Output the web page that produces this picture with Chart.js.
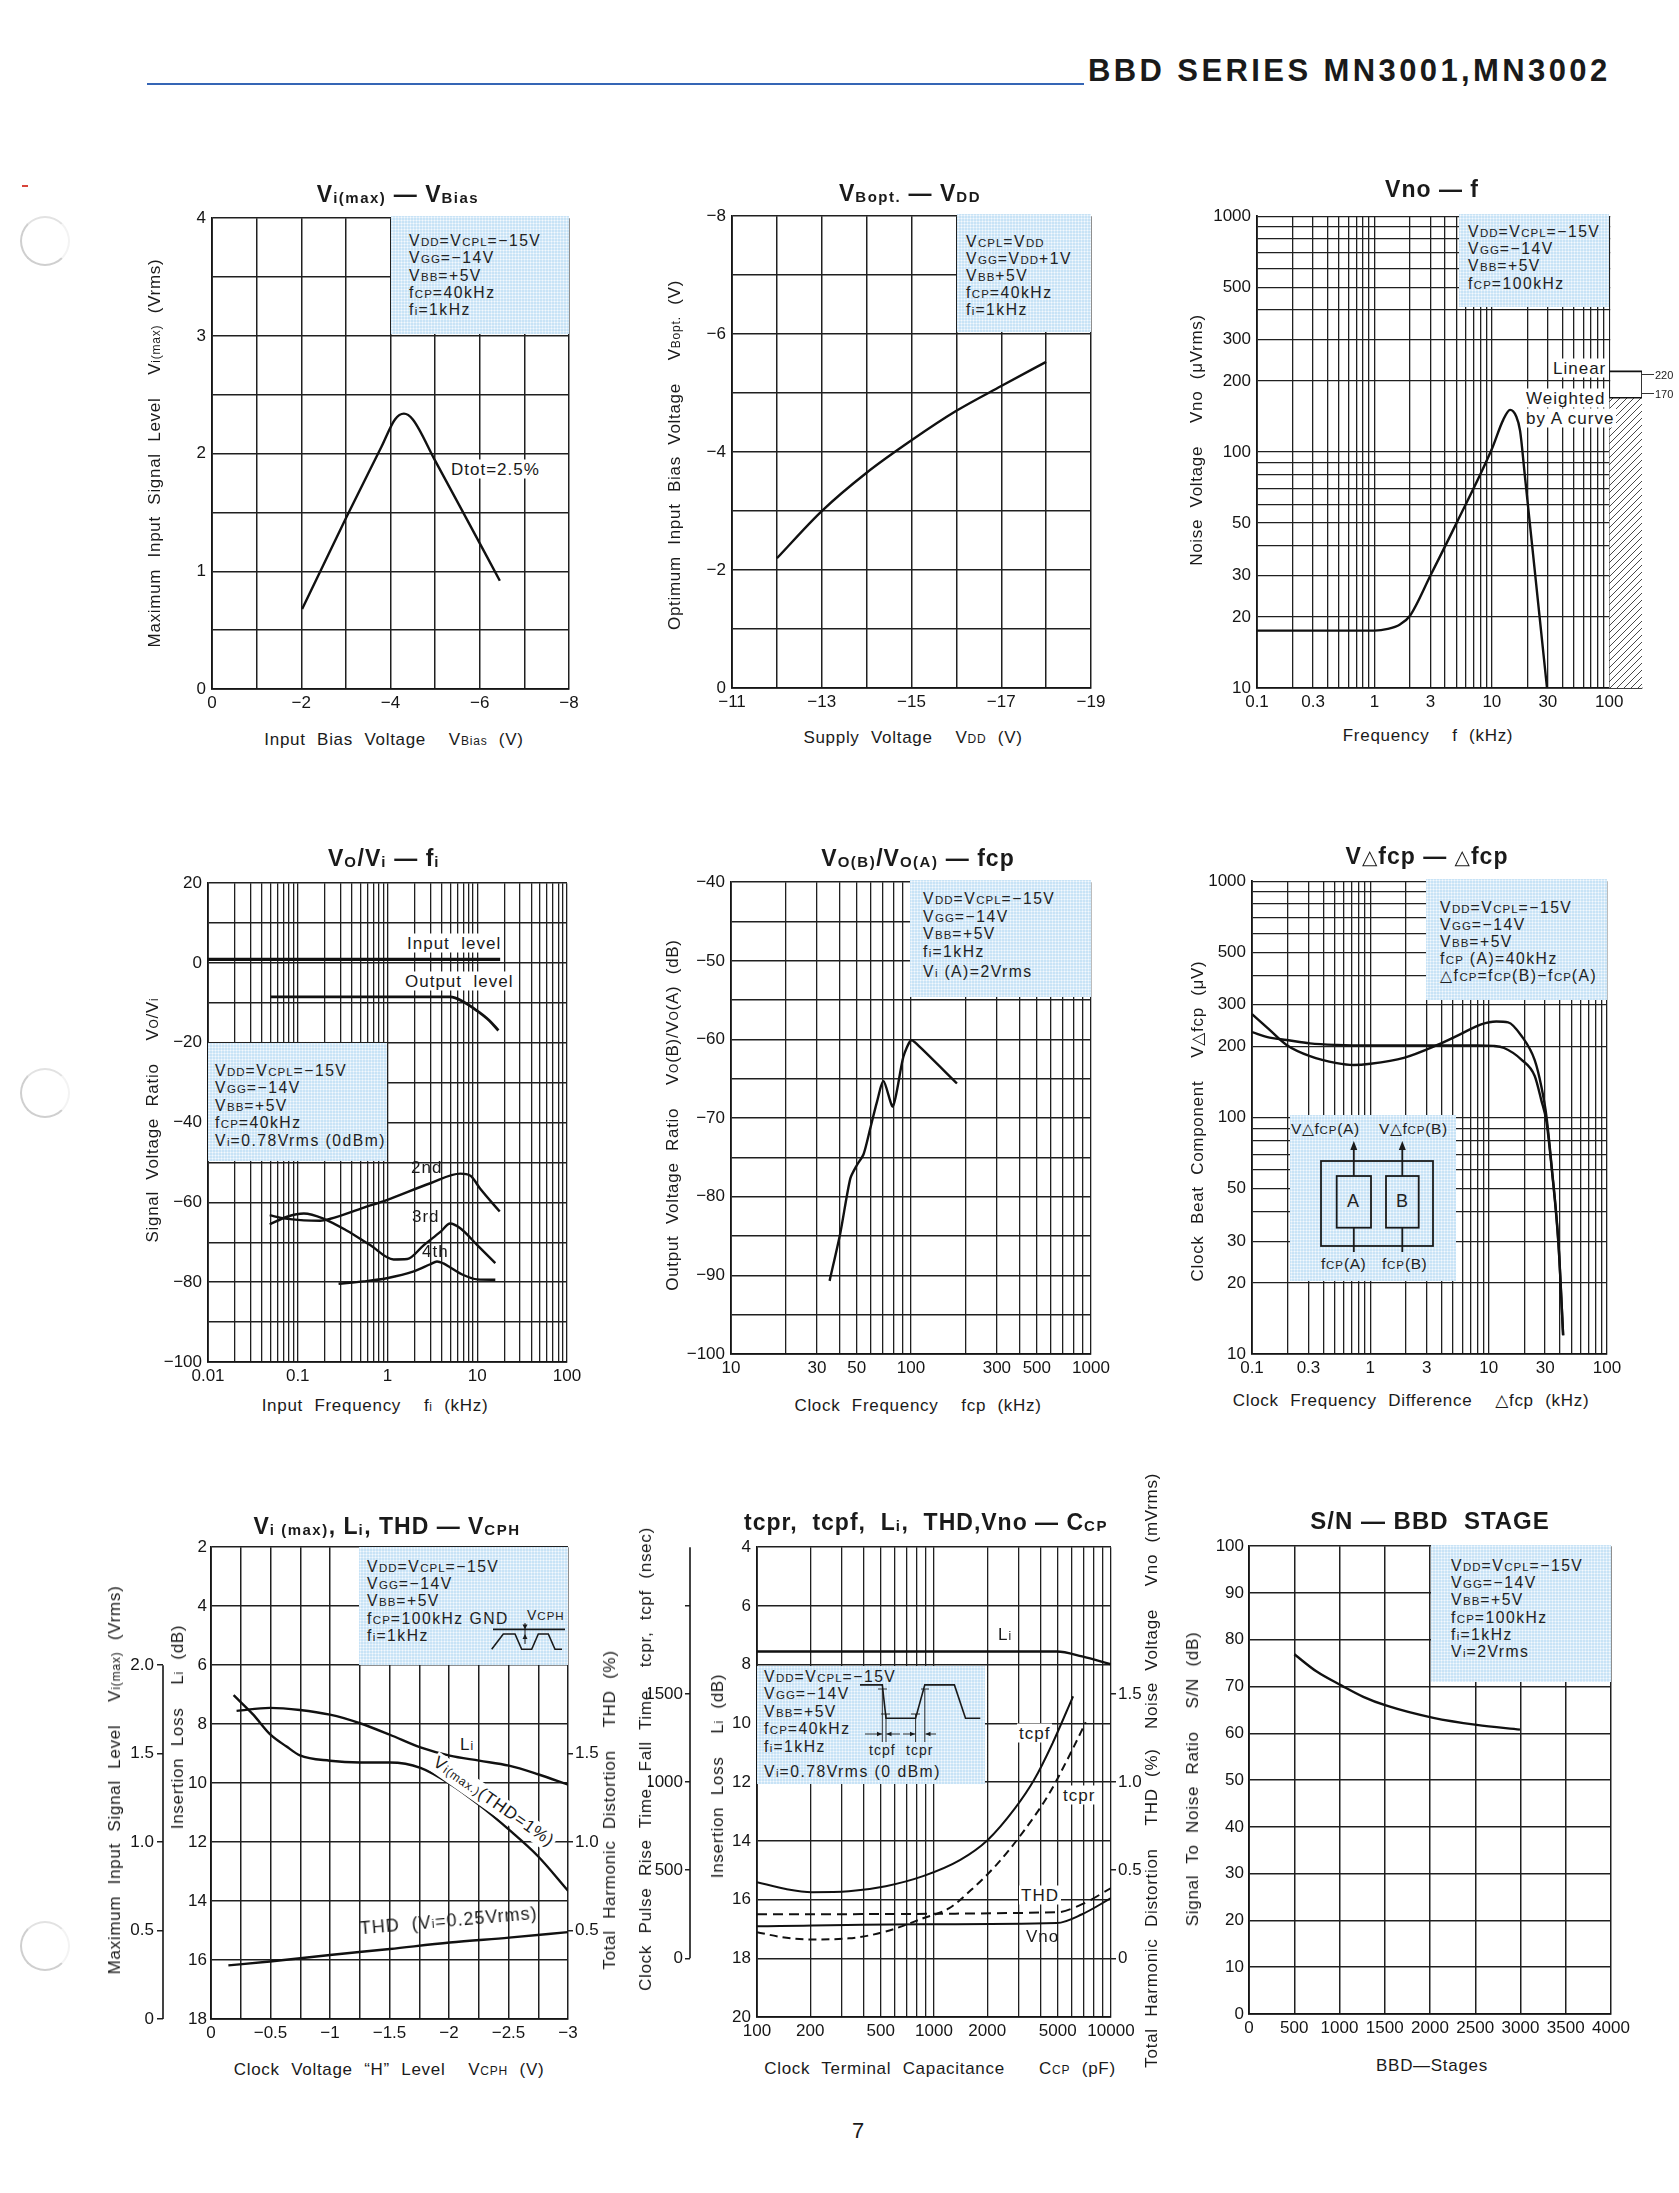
<!DOCTYPE html>
<html>
<head>
<meta charset="utf-8">
<title>BBD SERIES MN3001, MN3002</title>
<script src="https://cdn.jsdelivr.net/npm/chart.js@4.4.1/dist/chart.umd.min.js"></script>
<style>
  html, body { margin: 0; padding: 0; background: #fff; }
  #page { position: relative; width: 1679px; height: 2193px; overflow: hidden; font-family: "Liberation Sans", Arial, "DejaVu Sans", sans-serif; color: #1a1a1a; }
  #page canvas { position: absolute; }
  .t { position: absolute; white-space: nowrap; }
  .ttl { transform: translate(-50%, -50%); font-weight: bold; font-size: 23px; letter-spacing: 1px; }
  .ttl .ts { font-size: 15px; letter-spacing: 1.5px; vertical-align: -1px; }
  .tri { font-family: "DejaVu Sans", sans-serif; font-weight: normal; font-size: 20px; }
  .ax { transform: translate(-50%, -50%); font-size: 17px; letter-spacing: 0.7px; word-spacing: 6px; }
  .ay { transform: translate(-50%, -50%) rotate(-90deg); font-size: 17px; letter-spacing: 0.7px; word-spacing: 6px; }
  .s { font-size: 12px; letter-spacing: 0.8px; }
  .lab { transform: translateY(-50%); font-size: 17px; letter-spacing: 1px; line-height: 19px; padding: 0 2px; }
  .wb { background: #fff; }
  .cond { position: absolute; box-sizing: border-box; background-color: #c8e3f6;
          background-image: radial-gradient(rgba(255,255,255,.8) 0.8px, transparent 1.2px); background-size: 3px 3px;
          font-size: 15.7px; letter-spacing: 1.5px; white-space: nowrap; color: #222; }
  .cond .s { font-size: 11.5px; letter-spacing: 1px; }
  .cond svg { position: absolute; left: 0; top: 0; overflow: visible; }
  .small { font-size: 14px; letter-spacing: 1px; }
  .hole { position: absolute; width: 50px; height: 50px; border-radius: 50%; box-sizing: border-box;
          border: 2px solid #cfcfcf; border-right-color: #f3f3f3; border-top-color: #e2e2e2; }
</style>
</head>
<body>
<div id="page">
  <div class="t" style="left:1088px; top:53px; font-weight:bold; font-size:31px; letter-spacing:3.4px;">BBD SERIES MN3001,MN3002</div>
  <div style="position:absolute; left:147px; top:83px; width:937px; height:2px; background:#3565b5;"></div>
  <div style="position:absolute; left:22px; top:185px; width:6px; height:2px; background:#d8443a;"></div>
  <div class="hole" style="left:20px; top:216px;"></div>
  <div class="hole" style="left:20px; top:1068px;"></div>
  <div class="hole" style="left:20px; top:1921px;"></div>
  <div class="t" style="left:858px; top:2131px; transform:translate(-50%,-50%); font-size:22px;">7</div>
</div>
<script>
// ---------- chart values ----------
// Vi(max) - VBias
const BIAS_V = [-2.02, -3.0, -3.8, -4.1, -4.3, -4.5, -5.0, -5.6, -6.45];
const VIMAX_RMS = [0.68, 1.45, 2.06, 2.29, 2.34, 2.29, 1.94, 1.52, 0.92];
const BIAS_GRID = [0, -1, -2, -3, -4, -5, -6, -7, -8];
const BIAS_LABELS = [0, -2, -4, -6, -8];
const VIMAX_GRID = [0, 0.5, 1, 1.5, 2, 2.5, 3, 3.5, 4];
const VIMAX_LABELS = [0, 1, 2, 3, 4];

// VBopt - VDD
const VDD_V = [-12.0, -13.0, -14.0, -15.0, -16.0, -17.0, -18.0];
const VBOPT_V = [-2.2, -3.0, -3.65, -4.2, -4.7, -5.12, -5.53];
const VDD_GRID = [-11, -12, -13, -14, -15, -16, -17, -18, -19];
const VDD_LABELS = [-11, -13, -15, -17, -19];
const VBOPT_GRID = [0, -1, -2, -3, -4, -5, -6, -7, -8];
const VBOPT_LABELS = [0, -2, -4, -6, -8];

// Vno - f
const NOISE_F = [0.1, 0.5, 1.0, 1.3, 1.65, 2.0, 3.0, 5.0, 10, 12.5, 14.3, 16.1, 17.4, 19.1, 29.5];
const NOISE_UV = [17.5, 17.5, 17.5, 17.8, 18.6, 20.2, 30, 50, 103, 137, 151, 142, 123, 79.5, 10];
const LINEAR_F = [100, 190, 190];
const LINEAR_UV = [220, 220, 10];
const WEIGHTED_F = [100, 190];
const WEIGHTED_UV = [170, 170];
const NOISE_F_LABELS = [0.1, 0.3, 1, 3, 10, 30, 100];
const NOISE_UV_LABELS = [10, 20, 30, 50, 100, 200, 300, 500, 1000];

// Vo/Vi - fi
const INPUT_F = [0.01, 18];
const INPUT_DB = [0.9, 0.9];
const OUTPUT_F = [0.05, 1, 5.0, 7.0, 10, 13.6, 17.2];
const OUTPUT_DB = [-8.5, -8.5, -8.5, -9.7, -12, -14.4, -16.9];
const H2_F = [0.0487, 0.07, 0.117, 0.178, 0.231, 0.544, 0.98, 3.0, 6.47, 8.39, 10.8, 17.8];
const H2_DB = [-63.2, -64.0, -64.5, -64.6, -64.1, -61.3, -59.4, -55.2, -52.8, -53.3, -56.6, -62.3];
const H3_F = [0.0487, 0.076, 0.117, 0.195, 0.354, 0.64, 1.17, 1.66, 2.54, 3.88, 5.0, 6.47, 10, 15.9];
const H3_DB = [-65.5, -63.6, -62.8, -64.1, -67.1, -70.7, -74.3, -74.2, -70.7, -67.4, -65.3, -66.5, -70.7, -75.2];
const H4_F = [0.285, 0.544, 0.98, 1.96, 3.0, 3.56, 4.2, 5.0, 7.0, 10, 15.9];
const H4_DB = [-80.4, -79.8, -79.0, -77.3, -75.5, -74.8, -75.3, -76.3, -78.2, -79.3, -79.4];
const FI_LABELS = [0.01, 0.1, 1, 10, 100];
const RATIO_GRID = [20, 10, 0, -10, -20, -30, -40, -50, -60, -70, -80, -90, -100];
const RATIO_LABELS = [20, 0, -20, -40, -60, -80, -100];

// Vo(B)/Vo(A) - fcp
const FCP_KHZ = [35.3, 40.5, 46.0, 50.0, 54.5, 59.4, 64.6, 70.4, 79.3, 90.7, 100, 107.9, 180];
const VOBA_DB = [-90.7, -84.6, -77.7, -76.0, -74.6, -71.3, -68.0, -65.3, -68.5, -62.2, -60.1, -60.6, -65.6];
const FCP_LABELS = [10, 30, 50, 100, 300, 500, 1000];
const VOBA_GRID = [-40, -45, -50, -55, -60, -65, -70, -75, -80, -85, -90, -95, -100];
const VOBA_LABELS = [-40, -50, -60, -70, -80, -90, -100];

// VΔfcp - Δfcp
const DF_A_KHZ = [0.1, 0.141, 0.196, 0.309, 0.521, 0.722, 1.0, 1.92, 3.69, 5.84, 8.64, 11.6, 14.6, 18.9, 24.5, 27.9, 30.8, 34.2, 38.9, 42.6];
const VDF_A_UV = [274, 235, 203, 182, 170, 167, 169, 179, 203, 226, 248, 255, 253, 222, 175, 135, 101, 61, 29.5, 12];
const DF_B_KHZ = [0.1, 0.141, 0.196, 0.309, 0.521, 1.0, 3.0, 8.0, 11.0, 13.5, 18.9, 24.5, 27.9, 30.8, 34.2, 38.9, 42.6];
const VDF_B_UV = [230, 218, 213, 206, 203, 202, 202, 202, 201, 197, 176, 150, 118, 96, 60, 29, 12];
const DF_LABELS = [0.1, 0.3, 1, 3, 10, 30, 100];
const VDF_LABELS = [10, 20, 30, 50, 100, 200, 300, 500, 1000];

// Vi(max), Li, THD - VCPH
const LI7_VCPH = [-0.215, -0.495, -0.747, -0.999, -1.251, -1.503, -1.760, -2.006, -2.253, -2.504, -2.748, -3.0];
const LI7_DB = [7.55, 7.45, 7.52, 7.68, 7.97, 8.36, 8.79, 9.07, 9.24, 9.41, 9.70, 10.05];
const VI7_VCPH = [-0.19, -0.355, -0.495, -0.635, -0.747, -0.999, -1.251, -1.503, -1.760, -2.006, -2.253, -2.504, -2.748, -3.0];
const VI7_RMS = [1.83, 1.72, 1.61, 1.54, 1.49, 1.46, 1.45, 1.45, 1.42, 1.33, 1.21, 1.07, 0.92, 0.725];
const THD7_VCPH = [-0.146, -0.495, -0.999, -1.503, -2.006, -2.504, -3.0];
const THD7_PCT = [0.303, 0.325, 0.362, 0.396, 0.432, 0.460, 0.491];
const VCPH_GRID = [0, -0.25, -0.5, -0.75, -1, -1.25, -1.5, -1.75, -2, -2.25, -2.5, -2.75, -3];
const VCPH_LABELS = [0, -0.5, -1, -1.5, -2, -2.5, -3];
const LI7_GRID = [2, 4, 6, 8, 10, 12, 14, 16, 18];
const VI7_TICKS = [0, 0.5, 1, 1.5, 2];
const THD7_TICKS = [0.5, 1, 1.5];

// tcpr, tcpf, Li, THD, Vno - Ccp
const LI8_CCP = [100, 4951, 6870, 10000];
const LI8_DB = [7.55, 7.55, 7.72, 7.99];
const TCPF_CCP = [100, 145.6, 204, 330, 534, 867, 1400, 2005, 2872, 3665, 4649, 6108];
const TCPF_NS = [432, 393, 375, 380, 409, 466, 557, 670, 852, 1010, 1215, 1487];
const TCPR_CCP = [100, 138.8, 204, 330, 534, 867, 1213, 1618, 2266, 3174, 4446, 5937, 7200];
const TCPR_NS = [148, 120, 107, 113, 152, 227, 283, 387, 533, 715, 930, 1168, 1340];
const THD8_CCP = [100, 4951, 6870, 10000];
const THD8_PCT = [0.25, 0.261, 0.307, 0.398];
const VNO8_CCP = [100, 867, 4951, 6870, 10000];
const VNO8_MV = [0.182, 0.193, 0.2, 0.25, 0.341];
const CCP_LABELS = [100, 200, 500, 1000, 2000, 5000, 10000];
const LI8_GRID = [4, 6, 8, 10, 12, 14, 16, 18, 20];
const NS_TICKS = [0, 500, 1000, 1500, 2000];
const NS_LABELS = [0, 500, 1000, 1500];
const R8_TICKS = [0, 0.5, 1, 1.5];

// S/N - BBD stage
const STAGES = [501, 748, 1024, 1263, 1521, 2037, 2516, 2994];
const SN_DB = [76.9, 73.2, 70.2, 67.8, 65.9, 63.3, 61.8, 60.8];
const STAGE_GRID = [0, 500, 1000, 1500, 2000, 2500, 3000, 3500, 4000];
const SN_GRID = [0, 10, 20, 30, 40, 50, 60, 70, 80, 90, 100];

// ---------- helpers ----------
const page = document.getElementById("page");
const GRID = "#202020";
const INK = "#111";
const sb = (t) => `<span class="s">${t}</span>`;
const fmtMinus = (v) => (v < 0 ? "\u2212" : "") + Math.abs(v);
const fmt1 = (v) => (v === 0 ? "0" : v.toFixed(1));

Chart.defaults.font.family = '"Liberation Sans", Arial, sans-serif';
Chart.defaults.font.size = 17;
Chart.defaults.color = "#151515";

function logGrid(lo, hi) {
  const out = [];
  for (let d = lo; d < hi * 0.999; d *= 10) {
    for (let k = 1; k < 10; k++) out.push(Number((d * k).toPrecision(4)));
  }
  out.push(hi);
  return out;
}

function axis(o) {
  return {
    type: o.type || "linear",
    position: o.position,
    min: o.min,
    max: o.max,
    reverse: !!o.reverse,
    weight: o.weight || 0,
    afterBuildTicks: (sc) => { sc.ticks = o.grid.map((v) => ({ value: v })); },
    afterFit: (sc) => { if (sc.isHorizontal()) sc.height = o.size; else sc.width = o.size; },
    ticks: {
      autoSkip: false, maxRotation: 0, minRotation: 0,
      padding: o.pad ?? 6,
      color: "#151515",
      callback: (v) => {
        const hit = (o.labels || []).find((l) => Math.abs(l - v) <= Math.abs(l) * 1e-6 + 1e-9);
        return hit === undefined ? "" : (o.fmt || String)(hit);
      }
    },
    grid: {
      display: true,
      drawOnChartArea: o.onArea !== false,
      drawTicks: !!o.tick,
      tickLength: o.tick || 0,
      color: o.gridColor || GRID,
      lineWidth: o.gridWidth || 1.5
    },
    border: { display: o.border !== false, color: "#151515", width: 1.8 }
  };
}

function series(xs, ys, extra) {
  return Object.assign({
    data: xs.map((x, i) => ({ x, y: ys[i] })),
    borderColor: INK,
    borderWidth: 2.4,
    pointRadius: 0,
    fill: false,
    cubicInterpolationMode: "monotone"
  }, extra || {});
}

function makeCanvas(x, y, w, h) {
  const c = document.createElement("canvas");
  c.width = w; c.height = h;
  c.style.left = x + "px"; c.style.top = y + "px";
  c.style.width = w + "px"; c.style.height = h + "px";
  page.appendChild(c);
  return c;
}

// whites out the grid beyond a value on x (the hatched area of the noise chart)
const clearBeyond = {
  id: "clearBeyond",
  beforeDatasetsDraw(chart, args, o) {
    if (o.from === undefined) return;
    const { ctx, chartArea: a, scales } = chart;
    const x0 = scales.x.getPixelForValue(o.from);
    ctx.save();
    ctx.fillStyle = "#fff";
    ctx.fillRect(x0 + 1, 0, a.right - x0 + 10, a.bottom - 1);
    ctx.restore();
  }
};

// axis line drawn only over part of a secondary scale
const partAxis = {
  id: "partAxis",
  afterDatasetsDraw(chart, args, o) {
    const ctx = chart.ctx;
    (o.lines || []).forEach((l) => {
      const sc = chart.scales[l.axis];
      ctx.save();
      ctx.strokeStyle = "#151515";
      ctx.lineWidth = 1.6;
      ctx.beginPath();
      ctx.moveTo(sc.right, sc.getPixelForValue(l.from));
      ctx.lineTo(sc.right, sc.getPixelForValue(l.to));
      ctx.stroke();
      ctx.restore();
    });
  }
};

function plot(f, pad, scales, datasets, plugins, pluginOpts) {
  const w = f.R - f.L + pad.l + pad.r;
  const h = f.B - f.T + pad.t + pad.b;
  const c = makeCanvas(f.L - pad.l, f.T - pad.t, w, h);
  return new Chart(c, {
    type: "line",
    data: { datasets },
    options: {
      responsive: false,
      animation: false,
      devicePixelRatio: 1,
      events: [],
      layout: { padding: { top: pad.t, right: pad.pr ?? pad.r, left: 0, bottom: 0 } },
      scales,
      plugins: Object.assign({ legend: { display: false }, tooltip: { enabled: false } }, pluginOpts || {})
    },
    plugins: plugins || []
  });
}

function hatchPattern() {
  const p = document.createElement("canvas");
  p.width = 7; p.height = 7;
  const g = p.getContext("2d");
  g.fillStyle = "#fff";
  g.fillRect(0, 0, 7, 7);
  g.strokeStyle = "#333";
  g.lineWidth = 0.9;
  g.beginPath();
  g.moveTo(-1, 8); g.lineTo(8, -1);
  g.moveTo(-1, 1); g.lineTo(1, -1);
  g.moveTo(6, 8); g.lineTo(8, 6);
  g.stroke();
  return g.createPattern(p, "repeat");
}

function put(cls, x, y, html, css) {
  const d = document.createElement("div");
  d.className = "t " + cls;
  d.style.left = x + "px";
  d.style.top = y + "px";
  if (css) d.style.cssText += css;
  d.innerHTML = html;
  page.appendChild(d);
  return d;
}

function cond(x, y, w, h, tx, ty, lh, lines, gapLast) {
  const d = document.createElement("div");
  d.className = "cond";
  Object.assign(d.style, {
    left: x + "px", top: y + "px", width: w + "px", height: h + "px",
    paddingLeft: (tx - x) + "px", paddingTop: (ty - y - lh / 2) + "px", lineHeight: lh + "px"
  });
  d.innerHTML = lines.map((l, i) =>
    `<div${i === lines.length - 1 && gapLast ? ` style="margin-top:${gapLast}px"` : ""}>${l}</div>`).join("");
  page.appendChild(d);
  return d;
}

// ---------- frames (plot areas on the page) ----------
const F1 = { L: 212, T: 216, R: 569, B: 689 };
const F2 = { L: 732, T: 214, R: 1091, B: 688 };
const F3 = { L: 1257, T: 214, R: 1642, B: 688 };
const F4 = { L: 208, T: 881, R: 567, B: 1362 };
const F5 = { L: 731, T: 880, R: 1091, B: 1354 };
const F6 = { L: 1252, T: 879, R: 1607, B: 1354 };
const F7 = { L: 211, T: 1547, R: 568, B: 2019 };
const F8 = { L: 757, T: 1545, R: 1111, B: 2017 };
const F9 = { L: 1249, T: 1545, R: 1611, B: 2014 };

// 1
plot(F1, { l: 62, t: 14, r: 26, b: 32 }, {
  x: axis({ min: -8, max: 0, reverse: true, position: "bottom", grid: BIAS_GRID, labels: BIAS_LABELS, fmt: fmtMinus, size: 32, pad: 4 }),
  y: axis({ min: 0, max: 4, position: "left", grid: VIMAX_GRID, labels: VIMAX_LABELS, size: 62, pad: 6 })
}, [series(BIAS_V, VIMAX_RMS)]);

// 2
plot(F2, { l: 70, t: 14, r: 26, b: 32 }, {
  x: axis({ min: -19, max: -11, reverse: true, position: "bottom", grid: VDD_GRID, labels: VDD_LABELS, fmt: fmtMinus, size: 32, pad: 4 }),
  y: axis({ min: -8, max: 0, reverse: true, position: "left", grid: VBOPT_GRID, labels: VBOPT_LABELS, fmt: fmtMinus, size: 70, pad: 6 })
}, [series(VDD_V, VBOPT_V)]);

// 3
plot(F3, { l: 62, t: 14, r: 37, b: 32 }, {
  x: axis({ type: "logarithmic", min: 0.1, max: 190, position: "bottom", grid: logGrid(0.1, 100).concat([190]),
    labels: NOISE_F_LABELS, size: 32, pad: 4, gridWidth: 1.3,
    gridColor: (c) => (c.tick && c.tick.value > 101 ? "rgba(0,0,0,0)" : GRID) }),
  y: axis({ type: "logarithmic", min: 10, max: 1000, position: "left", grid: logGrid(10, 1000), labels: NOISE_UV_LABELS, size: 62, pad: 6, gridWidth: 1.3 })
}, [
  series(NOISE_F, NOISE_UV),
  series(WEIGHTED_F, WEIGHTED_UV, { fill: "start", backgroundColor: hatchPattern(), borderWidth: 1.7, cubicInterpolationMode: "default" }),
  series(LINEAR_F, LINEAR_UV, { borderWidth: 1.7, cubicInterpolationMode: "default" })
], [clearBeyond], { clearBeyond: { from: 100 } });

// 4
plot(F4, { l: 72, t: 14, r: 26, b: 32 }, {
  x: axis({ type: "logarithmic", min: 0.01, max: 100, position: "bottom", grid: logGrid(0.01, 100), labels: FI_LABELS, size: 32, pad: 4, gridWidth: 1.3 }),
  y: axis({ min: -100, max: 20, position: "left", grid: RATIO_GRID, labels: RATIO_LABELS, fmt: fmtMinus, size: 72, pad: 6 })
}, [
  series(INPUT_F, INPUT_DB, { borderWidth: 3.2 }),
  series(OUTPUT_F, OUTPUT_DB, { borderWidth: 2.8 }),
  series(H2_F, H2_DB),
  series(H3_F, H3_DB),
  series(H4_F, H4_DB)
]);

// 5
plot(F5, { l: 72, t: 14, r: 26, b: 32 }, {
  x: axis({ type: "logarithmic", min: 10, max: 1000, position: "bottom", grid: logGrid(10, 1000), labels: FCP_LABELS, size: 32, pad: 4, gridWidth: 1.3 }),
  y: axis({ min: -100, max: -40, position: "left", grid: VOBA_GRID, labels: VOBA_LABELS, fmt: fmtMinus, size: 72, pad: 6 })
}, [series(FCP_KHZ, VOBA_DB, { cubicInterpolationMode: "default", tension: 0.25 })]);

// 6
plot(F6, { l: 62, t: 14, r: 30, b: 32 }, {
  x: axis({ type: "logarithmic", min: 0.1, max: 100, position: "bottom", grid: logGrid(0.1, 100), labels: DF_LABELS, size: 32, pad: 4, gridWidth: 1.3 }),
  y: axis({ type: "logarithmic", min: 10, max: 1000, position: "left", grid: logGrid(10, 1000), labels: VDF_LABELS, size: 62, pad: 6, gridWidth: 1.3 })
}, [series(DF_A_KHZ, VDF_A_UV), series(DF_B_KHZ, VDF_B_UV)]);

// 7  (Vi(max) and THD share one scale: 0 at Li = 18 dB, 0.5 per 3 dB)
plot(F7, { l: 91, t: 14, r: 34, b: 32, pr: 0 }, {
  x: axis({ min: -3, max: 0, reverse: true, position: "bottom", grid: VCPH_GRID, labels: VCPH_LABELS, fmt: fmtMinus, size: 32, pad: 4 }),
  y: axis({ min: 2, max: 18, reverse: true, position: "left", grid: LI7_GRID, labels: LI7_GRID, size: 48, pad: 4, weight: 0 }),
  yv: axis({ min: 0, max: 16 / 6, position: "left", grid: VI7_TICKS, labels: VI7_TICKS, fmt: fmt1, size: 43, pad: 3, tick: 6, onArea: false, border: false, weight: 1 }),
  yr: axis({ min: 0, max: 16 / 6, position: "right", grid: THD7_TICKS, labels: THD7_TICKS, fmt: fmt1, size: 34, pad: 2, tick: 5, onArea: false, border: false })
}, [
  series(LI7_VCPH, LI7_DB, { yAxisID: "y" }),
  series(VI7_VCPH, VI7_RMS, { yAxisID: "yv" }),
  series(THD7_VCPH, THD7_PCT, { yAxisID: "yr" })
], [partAxis], { partAxis: { lines: [{ axis: "yv", from: 0, to: 2 }] } });

// 8  (nsec, THD and Vno all 0 at Li = 18 dB; 500 ns / 0.5 per 3 dB)
plot(F8, { l: 109, t: 14, r: 34, b: 32, pr: 0 }, {
  x: axis({ type: "logarithmic", min: 100, max: 10000, position: "bottom", grid: logGrid(100, 10000), labels: CCP_LABELS, size: 32, pad: 4, gridWidth: 1.3 }),
  y: axis({ min: 4, max: 20, reverse: true, position: "left", grid: LI8_GRID, labels: LI8_GRID, size: 67, pad: 6, weight: 0 }),
  yn: axis({ min: -1000 / 3, max: 7000 / 3, position: "left", grid: NS_TICKS, labels: NS_LABELS, size: 42, pad: 2, tick: 5, onArea: false, border: false, weight: 1 }),
  yr: axis({ min: -1 / 3, max: 7 / 3, position: "right", grid: R8_TICKS, labels: R8_TICKS, fmt: fmt1, size: 34, pad: 2, tick: 5, onArea: false, border: false })
}, [
  series(LI8_CCP, LI8_DB, { yAxisID: "y" }),
  series(TCPF_CCP, TCPF_NS, { yAxisID: "yn", borderWidth: 2 }),
  series(TCPR_CCP, TCPR_NS, { yAxisID: "yn", borderWidth: 2, borderDash: [8, 5] }),
  series(THD8_CCP, THD8_PCT, { yAxisID: "yr", borderWidth: 2, borderDash: [10, 6] }),
  series(VNO8_CCP, VNO8_MV, { yAxisID: "yr", borderWidth: 2 })
], [partAxis], { partAxis: { lines: [{ axis: "yn", from: 0, to: 7000 / 3 }] } });

// 9
plot(F9, { l: 58, t: 14, r: 30, b: 32 }, {
  x: axis({ min: 0, max: 4000, position: "bottom", grid: STAGE_GRID, labels: STAGE_GRID, size: 32, pad: 4 }),
  y: axis({ min: 0, max: 100, position: "left", grid: SN_GRID, labels: SN_GRID, size: 58, pad: 5 })
}, [series(STAGES, SN_DB)]);

// ---------- titles ----------
put("ttl", 398, 194, `V<span class="ts">i(max)</span> — V<span class="ts">Bias</span>`);
put("ttl", 910, 193, `V<span class="ts">Bopt.</span> — V<span class="ts">DD</span>`);
put("ttl", 1432, 189, `Vno — f`);
put("ttl", 384, 858, `V<span class="ts">O</span>/V<span class="ts">i</span> — f<span class="ts">i</span>`);
put("ttl", 918, 858, `V<span class="ts">O(B)</span>/V<span class="ts">O(A)</span> — fcp`);
put("ttl", 1427, 856, `V<span class="tri">△</span>fcp — <span class="tri">△</span>fcp`);
put("ttl", 387, 1526, `V<span class="ts">i (max)</span>, L<span class="ts">i</span>, THD — V<span class="ts">CPH</span>`);
put("ttl", 926, 1522, `tcpr,&nbsp; tcpf,&nbsp; L<span class="ts">i</span>,&nbsp; THD,Vno — C<span class="ts">CP</span>`);
put("ttl", 1430, 1521, `S/N — BBD&nbsp; STAGE`, "font-size:24px;");

// ---------- axis titles ----------
put("ax", 394, 740, `Input Bias Voltage &nbsp;V${sb("Bias")} (V)`);
put("ay", 155, 453, `Maximum Input Signal Level &nbsp;V${sb("i(max)")} (Vrms)`);
put("ax", 913, 738, `Supply Voltage &nbsp;V${sb("DD")} (V)`);
put("ay", 675, 455, `Optimum Input Bias Voltage &nbsp;V${sb("Bopt.")} (V)`);
put("ax", 1428, 736, `Frequency &nbsp;f (kHz)`);
put("ay", 1197, 440, `Noise Voltage &nbsp;Vno (μVrms)`);
put("ax", 375, 1406, `Input Frequency &nbsp;f${sb("i")} (kHz)`);
put("ay", 153, 1120, `Signal Voltage Ratio &nbsp;V${sb("O")}/V${sb("i")}`);
put("ax", 918, 1406, `Clock Frequency &nbsp;fcp (kHz)`);
put("ay", 673, 1115, `Output Voltage Ratio &nbsp;V${sb("O")}(B)/V${sb("O")}(A) (dB)`);
put("ax", 1411, 1400, `Clock Frequency Difference &nbsp;△fcp (kHz)`);
put("ay", 1197, 1121, `Clock Beat Component &nbsp;V△fcp (μV)`);
put("ax", 389, 2070, `Clock Voltage “H” Level &nbsp;V${sb("CPH")} (V)`);
put("ay", 115, 1780, `Maximum Input Signal Level &nbsp;V${sb("i(max)")} (Vrms)`);
put("ay", 178, 1727, `Insertion Loss &nbsp;L${sb("i")} (dB)`);
put("ay", 610, 1810, `Total Harmonic Distortion &nbsp;THD (%)`);
put("ax", 940, 2069, `Clock Terminal Capacitance &nbsp;&nbsp;C${sb("CP")} (pF)`);
put("ay", 646, 1759, `Clock Pulse Rise Time, Fall Time &nbsp;tcpr, tcpf (nsec)`);
put("ay", 718, 1776, `Insertion Loss &nbsp;L${sb("i")} (dB)`);
put("ay", 1152, 1908, `Total Harmonic Distortion &nbsp;THD (%)`);
put("ay", 1152, 1601, `Noise Voltage &nbsp;Vno (mVrms)`);
put("ax", 1432, 2066, `BBD—Stages`);
put("ay", 1193, 1779, `Signal To Noise Ratio &nbsp;S/N (dB)`);

// ---------- curve labels ----------
put("lab wb", 449, 469, `Dtot=2.5%`);
put("lab wb", 1551, 368, `Linear`);
put("lab wb", 1524, 398, `Weighted`);
put("lab wb", 1524, 418, `by A curve`);
put("lab", 1655, 375, `220`, "font-size:11px;letter-spacing:0;padding:0;");
put("lab", 1655, 394, `170`, "font-size:11px;letter-spacing:0;padding:0;");
put("t", 1642, 374, "", "width:12px;height:1px;background:#333;");
put("t", 1642, 393, "", "width:12px;height:1px;background:#333;");
put("lab wb", 405, 943, `Input&nbsp; level`);
put("lab wb", 403, 981, `Output&nbsp; level`);
put("lab", 409, 1167, `2nd`);
put("lab", 410, 1216, `3rd`);
put("lab", 420, 1251, `4th`);
put("lab wb", 458, 1745, `L${sb("i")}`);
put("lab wb", 433, 1760, `V${sb("i(max.)")}(THD=1%)`, "transform-origin:0 50%;transform:translateY(-50%) rotate(35deg);");
put("lab", 358, 1930, `THD &nbsp;(V${sb("i")}=0.25Vrms)`, "font-size:18px;transform-origin:0 50%;transform:translateY(-50%) rotate(-5deg);");
put("lab", 996, 1635, `L${sb("i")}`);
put("lab wb", 1017, 1733, `tcpf`);
put("lab wb", 1061, 1795, `tcpr`);
put("lab wb", 1019, 1895, `THD`);
put("lab", 1024, 1936, `Vno`);

// ---------- condition boxes ----------
const L_DD = `V${sb("DD")}=V${sb("CPL")}=−15V`;
const L_GG = `V${sb("GG")}=−14V`;
const L_BB = `V${sb("BB")}=+5V`;

cond(391, 216, 178, 118, 409, 241, 16.4, [L_DD, L_GG, L_BB, `f${sb("CP")}=40kHz`, `f${sb("i")}=1kHz`]);
cond(957, 214, 134, 118, 966, 241.5, 16, [`V${sb("CPL")}=V${sb("DD")}`, `V${sb("GG")}=V${sb("DD")}+1V`, `V${sb("BB")}+5V`, `f${sb("CP")}=40kHz`, `f${sb("i")}=1kHz`]);
cond(1459, 214, 150, 93, 1468, 232, 16.3, [L_DD, L_GG, L_BB, `f${sb("CP")}=100kHz`]);
cond(208, 1043, 179, 118, 215, 1071, 16.45, [L_DD, L_GG, L_BB, `f${sb("CP")}=40kHz`, `V${sb("i")}=0.78Vrms (0dBm)`]);
cond(910, 880, 181, 117, 923, 899.6, 16.5, [L_DD, L_GG, L_BB, `f${sb("i")}=1kHz`, `V${sb("i")} (A)=2Vrms`], 3);
cond(1426, 879, 181, 121, 1440, 908, 16.1, [L_DD, L_GG, L_BB, `f${sb("CP")} (A)=40kHz`, `△f${sb("CP")}=f${sb("CP")}(B)−f${sb("CP")}(A)`]);
cond(1431, 1545, 180, 137, 1451, 1566, 16.3, [L_DD, L_GG, L_BB, `f${sb("CP")}=100kHz`, `f${sb("i")}=1kHz`, `V${sb("i")}=2Vrms`]);

// chart 7 box with clock waveform
const c7 = cond(359, 1547, 209, 118, 367, 1567, 16.25, [L_DD, L_GG, L_BB, `f${sb("CP")}=100kHz&nbsp;GND`, `f${sb("i")}=1kHz`]);
c7.insertAdjacentHTML("beforeend", `
  <svg width="209" height="118">
    <g stroke="#1a1a1a" stroke-width="1.6" fill="none">
      <path d="M134 82.4 H206"/>
      <path d="M132.7 102.3 L144.3 87 L156 87 L162.7 102.3 L172.7 102.3 L179.3 87 L189.3 87 L196 102.3 L203 102.3"/>
      <path d="M166 76 V97" stroke-width="1"/>
    </g>
    <path d="M166 82.4 l-2.5 -5 h5 z M166 87 l-2.5 5 h5 z" fill="#1a1a1a"/>
  </svg>
  <div class="t" style="left:168px; top:60px; font-size:14px; letter-spacing:1px;">V${sb("CPH")}</div>`);

// chart 8 box with pulse timing sketch
const c8 = cond(757, 1666, 228, 117.5, 764, 1677, 16.5, [L_DD, L_GG, L_BB, `f${sb("CP")}=40kHz`, `f${sb("i")}=1kHz`, `V${sb("i")}=0.78Vrms (0 dBm)`], 8);
c8.insertAdjacentHTML("beforeend", `
  <svg width="228" height="118">
    <g stroke="#1a1a1a" fill="none">
      <path stroke-width="1.6" d="M103 18.9 H125.3 L129 52.3 H158.6 L167.8 18.9 H197.4 L208.5 52.3 H223.3"/>
      <path stroke-width="0.9" d="M125.3 23 V76 M129 48 V76 M158.6 48 V76 M167.8 23 V76 M121 23 H130 M124 48 H133 M154 48 H163 M164 23 H172"/>
      <path stroke-width="0.9" d="M108 68 H125 M143 68 H129.5 M146 68 H158 M179 68 H168.5"/>
    </g>
    <path fill="#1a1a1a" d="M125 68 l-5 -2.2 v4.4 z M129.5 68 l5 -2.2 v4.4 z M158 68 l-5 -2.2 v4.4 z M168.5 68 l5 -2.2 v4.4 z"/>
  </svg>
  <div class="t small" style="left:112px; top:76px;">tcpf</div>
  <div class="t small" style="left:149px; top:76px;">tcpr</div>`);

// chart 6 block diagram inset
const inset = document.createElement("div");
inset.className = "cond";
Object.assign(inset.style, { left: "1290px", top: "1115px", width: "166px", height: "166px" });
inset.innerHTML = `
  <svg width="166" height="166">
    <g stroke="#1a1a1a" stroke-width="1.8" fill="none">
      <rect x="31" y="46" width="112" height="85"/>
      <rect x="46.7" y="61" width="34.3" height="51.7"/>
      <rect x="96" y="61" width="32.7" height="51.7"/>
      <path d="M63.8 61 V34 M112.3 61 V34 M63.8 112.7 V137 M112.3 112.7 V137"/>
    </g>
    <path d="M63.8 26 l-3.5 9 h7 z M112.3 26 l-3.5 9 h7 z" fill="#1a1a1a"/>
  </svg>
  <div class="t" style="left:1px; top:5px; font-size:15.5px; letter-spacing:0.6px;">V△f${sb("CP")}(A)</div>
  <div class="t" style="left:89px; top:5px; font-size:15.5px; letter-spacing:0.6px;">V△f${sb("CP")}(B)</div>
  <div class="t" style="left:57px; top:76px; font-size:18px;">A</div>
  <div class="t" style="left:106px; top:76px; font-size:18px;">B</div>
  <div class="t" style="left:31px; top:140px; font-size:15.5px; letter-spacing:0.6px;">f${sb("CP")}(A)</div>
  <div class="t" style="left:92px; top:140px; font-size:15.5px; letter-spacing:0.6px;">f${sb("CP")}(B)</div>`;
page.appendChild(inset);
</script>
</body>
</html>
